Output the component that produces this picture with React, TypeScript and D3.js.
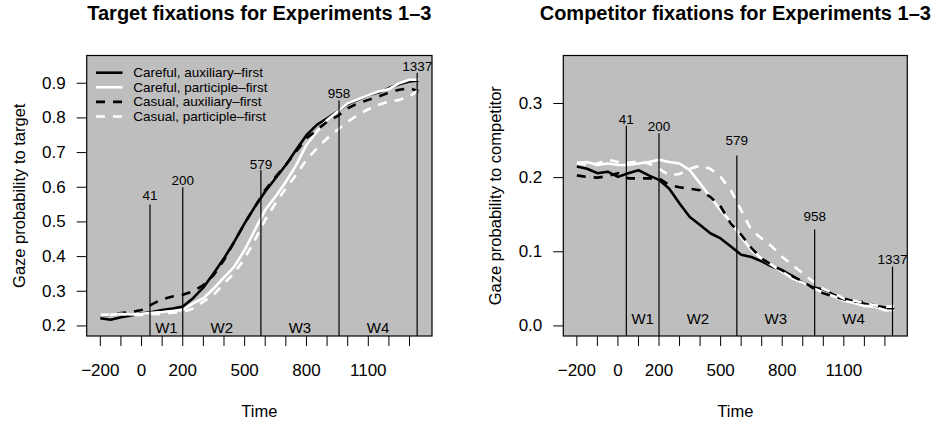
import * as d3 from "d3";
import React from "react";

// sampled time points (ms)
const times = [
  -200, -150, -100, -50, 0, 50, 100, 150, 200, 250, 300, 350, 400, 450, 500, 550,
  600, 650, 700, 750, 800, 850, 900, 950, 1000, 1050, 1100, 1150, 1200, 1250, 1300, 1345,
];

const seriesNames = [
  "Careful, auxiliary\u2013first",
  "Careful, participle\u2013first",
  "Casual, auxiliary\u2013first",
  "Casual, participle\u2013first",
];

const targetCarefulAux = [
  0.222, 0.218, 0.225, 0.23, 0.236, 0.24, 0.246, 0.25, 0.256, 0.28, 0.311, 0.352, 0.395, 0.443, 0.496, 0.544,
  0.588, 0.626, 0.664, 0.708, 0.75, 0.78, 0.799, 0.818, 0.84, 0.852, 0.866, 0.873, 0.886, 0.897, 0.905, 0.908,
];
const targetCarefulPart = [
  0.232, 0.232, 0.235, 0.233, 0.235, 0.238, 0.24, 0.243, 0.246, 0.265, 0.28, 0.308, 0.34, 0.371, 0.419, 0.477,
  0.535, 0.573, 0.616, 0.664, 0.722, 0.76, 0.794, 0.818, 0.842, 0.854, 0.866, 0.876, 0.883, 0.9, 0.91, 0.91,
];
const targetCasualAux = [
  0.23, 0.232, 0.237, 0.24, 0.246, 0.262, 0.277, 0.285, 0.29, 0.3, 0.318, 0.347, 0.39, 0.443, 0.496, 0.544,
  0.592, 0.63, 0.664, 0.703, 0.741, 0.765, 0.789, 0.805, 0.828, 0.842, 0.852, 0.862, 0.873, 0.881, 0.886, 0.876,
];
const targetCasualPart = [
  0.23, 0.233, 0.235, 0.232, 0.232, 0.234, 0.235, 0.238, 0.24, 0.25, 0.27, 0.29, 0.323, 0.352, 0.395, 0.448,
  0.506, 0.554, 0.597, 0.636, 0.679, 0.712, 0.741, 0.765, 0.789, 0.809, 0.825, 0.838, 0.847, 0.852, 0.862, 0.881,
];

const compCarefulAux = [
  0.215, 0.212, 0.206, 0.208, 0.201, 0.206, 0.21, 0.203, 0.197, 0.185, 0.165, 0.147, 0.136, 0.125, 0.118, 0.107,
  0.096, 0.093, 0.087, 0.08, 0.075, 0.067, 0.058, 0.052, 0.049, 0.042, 0.037, 0.033, 0.03, 0.027, 0.025, 0.024,
];
const compCarefulPart = [
  0.22, 0.221, 0.217, 0.219, 0.217, 0.217, 0.219, 0.221, 0.224, 0.221, 0.219, 0.21, 0.192, 0.174, 0.156, 0.14,
  0.12, 0.102, 0.091, 0.082, 0.073, 0.064, 0.058, 0.051, 0.045, 0.04, 0.034, 0.031, 0.027, 0.026, 0.021, 0.022,
];
const compCasualAux = [
  0.203, 0.201, 0.2, 0.202, 0.206, 0.199, 0.199, 0.199, 0.199, 0.19, 0.187, 0.185, 0.183, 0.174, 0.161, 0.138,
  0.123, 0.105, 0.091, 0.082, 0.075, 0.067, 0.06, 0.051, 0.044, 0.04, 0.036, 0.033, 0.032, 0.028, 0.024, 0.024,
];
const compCasualPart = [
  0.219, 0.217, 0.219, 0.224, 0.221, 0.22, 0.222, 0.219, 0.212, 0.203, 0.205, 0.212, 0.216, 0.212, 0.201, 0.183,
  0.156, 0.129, 0.118, 0.107, 0.093, 0.082, 0.071, 0.06, 0.05, 0.044, 0.037, 0.034, 0.031, 0.028, 0.026, 0.026,
];

// window boundaries
const boundaries = [41, 200, 579, 958, 1337];
const windowLabels = ["W1", "W2", "W3", "W4"];
const targetLineTops = [0.55, 0.6, 0.65, 0.85, 0.93];
const targetLabelY = [0.575, 0.62, 0.667, 0.87, 0.948];
const compLineTops = [0.27, 0.26, 0.23, 0.13, 0.08];
const compLabelY = [0.279, 0.269, 0.25, 0.148, 0.089];

const xTicks = [-200, -100, 0, 100, 200, 300, 400, 500, 600, 700, 800, 900, 1000, 1100, 1200, 1300];
const xTickLabels = [-200, 0, 200, 500, 800, 1100];
const targetYTicks = [0.2, 0.3, 0.4, 0.5, 0.6, 0.7, 0.8, 0.9];
const compYTicks = [0.0, 0.1, 0.2, 0.3];

const width = 942;
const height = 424;
const font = "Liberation Sans, Arial, Helvetica, sans-serif";

type PanelCfg = {
  title: string;
  yLabel: string;
  left: number;
  right: number;
  yDomain: [number, number];
  yTicks: number[];
  yFormat: (v: number) => string;
  series: number[][];
  lineTops: number[];
  labelY: number[];
  wY: number;
  legend: boolean;
};

const panels: PanelCfg[] = [
  {
    title: "Target fixations for Experiments 1\u20133",
    yLabel: "Gaze probability to target",
    left: 86.7,
    right: 432,
    yDomain: [0.171, 0.98],
    yTicks: targetYTicks,
    yFormat: d3.format(".1f"),
    series: [targetCarefulAux, targetCarefulPart, targetCasualAux, targetCasualPart],
    lineTops: targetLineTops,
    labelY: targetLabelY,
    wY: 0.195,
    legend: true,
  },
  {
    title: "Competitor fixations for Experiments 1\u20133",
    yLabel: "Gaze probability to competitor",
    left: 563.3,
    right: 907.3,
    yDomain: [-0.0136, 0.3647],
    yTicks: compYTicks,
    yFormat: d3.format(".1f"),
    series: [compCarefulAux, compCarefulPart, compCasualAux, compCasualPart],
    lineTops: compLineTops,
    labelY: compLabelY,
    wY: 0.01,
    legend: false,
  },
];

const colors = ["#000", "#fff", "#000", "#fff"];
const dashes = [null, null, "9,8", "9,8"];

export default function App() {
  const ref = React.useRef<SVGSVGElement | null>(null);

  const drawPanel = (svg: d3.Selection<SVGSVGElement, unknown, null, undefined>, p: PanelCfg) => {
    const top = 55.5;
    const bottom = 336;
    const x = d3.scaleLinear().domain([-266, 1409]).range([p.left, p.right]);
    const y = d3.scaleLinear().domain(p.yDomain).range([bottom, top]);
    const g = svg.append("g");
    const cx = (p.left + p.right) / 2;

    g.append("rect")
      .attr("x", p.left)
      .attr("y", top)
      .attr("width", p.right - p.left)
      .attr("height", bottom - top)
      .attr("fill", "#bebebe");

    // curves
    const line = d3
      .line<number>()
      .x((_, i) => x(times[i]))
      .y((d) => y(d));
    p.series.forEach((s, i) => {
      g.append("path")
        .attr("d", line(s))
        .attr("fill", "none")
        .attr("stroke", colors[i])
        .attr("stroke-width", 2.6)
        .attr("stroke-dasharray", dashes[i])
        .attr("stroke-linejoin", "round");
    });

    // window boundary lines
    boundaries.forEach((b, i) => {
      g.append("line")
        .attr("x1", x(b))
        .attr("x2", x(b))
        .attr("y1", bottom)
        .attr("y2", y(p.lineTops[i]))
        .attr("stroke", "#000")
        .attr("stroke-width", 1.2);
      g.append("text")
        .attr("x", x(b))
        .attr("y", y(p.labelY[i]))
        .attr("text-anchor", "middle")
        .attr("dominant-baseline", "central")
        .attr("font-size", 13.5)
        .text(b);
    });
    windowLabels.forEach((w, i) => {
      g.append("text")
        .attr("x", x((boundaries[i] + boundaries[i + 1]) / 2))
        .attr("y", y(p.wY))
        .attr("text-anchor", "middle")
        .attr("dominant-baseline", "central")
        .attr("font-size", 15)
        .text(w);
    });

    g.append("rect")
      .attr("x", p.left)
      .attr("y", top)
      .attr("width", p.right - p.left)
      .attr("height", bottom - top)
      .attr("fill", "none")
      .attr("stroke", "#000")
      .attr("stroke-width", 1.2);

    // x axis
    const xa = g.append("g");
    xa.selectAll("line")
      .data(xTicks)
      .join("line")
      .attr("x1", (d) => x(d))
      .attr("x2", (d) => x(d))
      .attr("y1", bottom)
      .attr("y2", bottom + 10)
      .attr("stroke", "#000");
    xa.selectAll("text")
      .data(xTickLabels)
      .join("text")
      .attr("x", (d) => x(d))
      .attr("y", 376)
      .attr("text-anchor", "middle")
      .attr("font-size", 17)
      .text((d) => (d < 0 ? "\u2212" + Math.abs(d) : String(d)));

    // y axis
    const ya = g.append("g");
    ya.selectAll("line")
      .data(p.yTicks)
      .join("line")
      .attr("x1", p.left - 10)
      .attr("x2", p.left)
      .attr("y1", (d) => y(d))
      .attr("y2", (d) => y(d))
      .attr("stroke", "#000");
    ya.selectAll("text")
      .data(p.yTicks)
      .join("text")
      .attr("x", p.left - 21)
      .attr("y", (d) => y(d))
      .attr("text-anchor", "end")
      .attr("dominant-baseline", "central")
      .attr("font-size", 17)
      .text((d) => p.yFormat(d));

    g.append("text")
      .attr("transform", `translate(${p.left - 68},${(top + bottom) / 2}) rotate(-90)`)
      .attr("text-anchor", "middle")
      .attr("dominant-baseline", "central")
      .attr("font-size", 16.5)
      .text(p.yLabel);

    g.append("text")
      .attr("x", cx)
      .attr("y", 417)
      .attr("text-anchor", "middle")
      .attr("font-size", 16.5)
      .text("Time");

    g.append("text")
      .attr("x", cx)
      .attr("y", 20)
      .attr("text-anchor", "middle")
      .attr("font-size", 20)
      .attr("font-weight", "bold")
      .text(p.title);

    if (p.legend) {
      const lg = g.append("g");
      seriesNames.forEach((name, i) => {
        const ly = 72.7 + i * 14.6;
        lg.append("line")
          .attr("x1", 96)
          .attr("x2", 122.5)
          .attr("y1", ly)
          .attr("y2", ly)
          .attr("stroke", colors[i])
          .attr("stroke-width", 2.6)
          .attr("stroke-dasharray", dashes[i]);
        lg.append("text")
          .attr("x", 133.3)
          .attr("y", ly)
          .attr("dominant-baseline", "central")
          .attr("font-size", 13.5)
          .text(name);
      });
    }
  };

  React.useEffect(() => {
    if (!ref.current) return;
    const svg = d3.select(ref.current);
    svg.selectAll("*").remove();
    svg.append("rect").attr("width", width).attr("height", height).attr("fill", "#fff");
    panels.forEach((p) => drawPanel(svg, p));
  }, []);

  return (
    <svg
      ref={ref}
      width={width}
      height={height}
      style={{ position: "absolute", left: 0, top: 0, fontFamily: font }}
    ></svg>
  );
}
